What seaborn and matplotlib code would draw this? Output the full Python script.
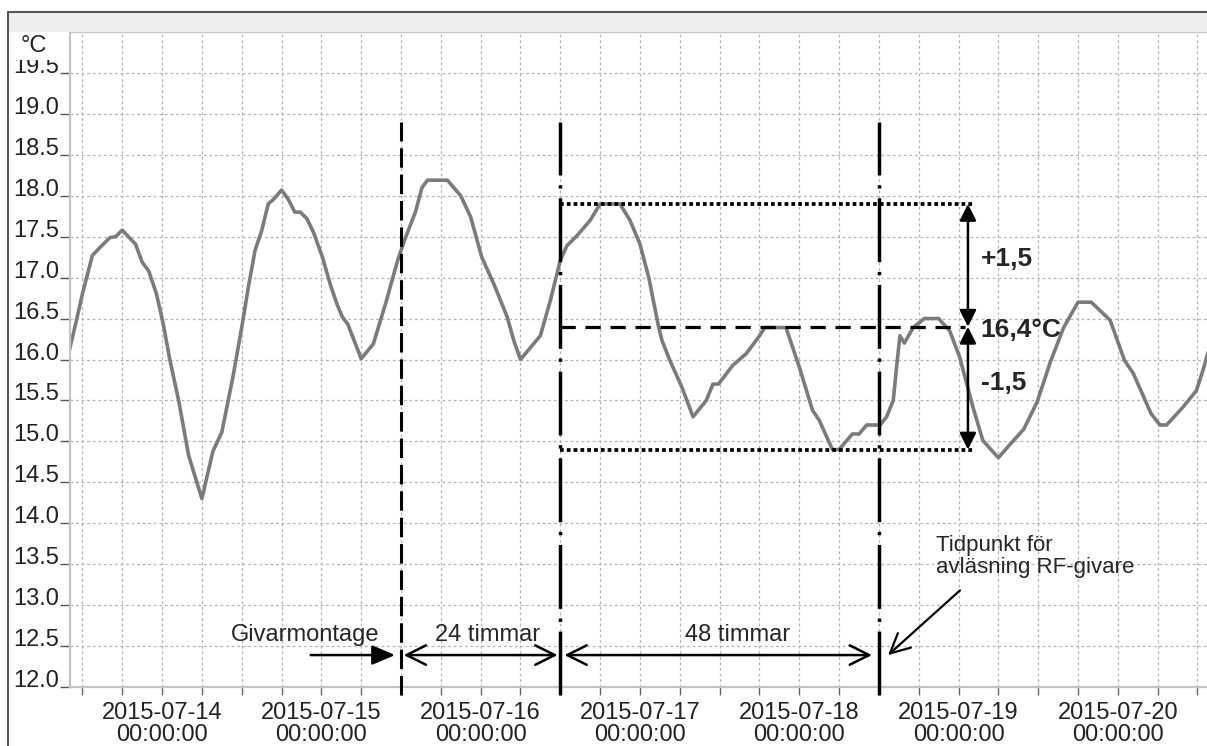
import numpy as np
import pandas as pd
import matplotlib
matplotlib.use("Agg")
import matplotlib.pyplot as plt
import matplotlib.dates as mdates
from matplotlib.patches import Rectangle
from matplotlib.lines import Line2D
import seaborn as sns

# ---------------- data ----------------
times = [
    "2015-07-13 10:00", "2015-07-13 11:00", "2015-07-13 12:00", "2015-07-13 13:30",
    "2015-07-13 14:40", "2015-07-13 16:10", "2015-07-13 17:00", "2015-07-13 18:00",
    "2015-07-13 20:00", "2015-07-13 21:00", "2015-07-13 22:00", "2015-07-13 23:10",
    "2015-07-14 00:10", "2015-07-14 01:10", "2015-07-14 02:30", "2015-07-14 04:00",
    "2015-07-14 06:00", "2015-07-14 07:40", "2015-07-14 09:00", "2015-07-14 10:40",
    "2015-07-14 12:00", "2015-07-14 13:00", "2015-07-14 14:00", "2015-07-14 15:00",
    "2015-07-14 16:00", "2015-07-14 16:50", "2015-07-14 18:00", "2015-07-14 19:00",
    "2015-07-14 20:00", "2015-07-14 20:50", "2015-07-14 21:50", "2015-07-14 22:50",
    "2015-07-15 00:10", "2015-07-15 01:20", "2015-07-15 02:20", "2015-07-15 03:10",
    "2015-07-15 04:00", "2015-07-15 06:00", "2015-07-15 07:50", "2015-07-15 09:40",
    "2015-07-15 11:30", "2015-07-15 12:30", "2015-07-15 14:10", "2015-07-15 15:10",
    "2015-07-15 16:00", "2015-07-15 19:00", "2015-07-15 21:00", "2015-07-15 22:30",
    "2015-07-16 00:10", "2015-07-16 02:00", "2015-07-16 04:00", "2015-07-16 05:00",
    "2015-07-16 06:00", "2015-07-16 09:00", "2015-07-16 10:30", "2015-07-16 12:00",
    "2015-07-16 13:00", "2015-07-16 14:30", "2015-07-16 16:30", "2015-07-16 18:00",
    "2015-07-16 21:00", "2015-07-16 22:30", "2015-07-17 00:00", "2015-07-17 01:20",
    "2015-07-17 02:50", "2015-07-17 03:20", "2015-07-17 04:30", "2015-07-17 06:20",
    "2015-07-17 08:00", "2015-07-17 10:00", "2015-07-17 11:00", "2015-07-17 11:50",
    "2015-07-17 14:00", "2015-07-17 16:00", "2015-07-17 17:40", "2015-07-17 18:50",
    "2015-07-17 22:00", "2015-07-18 00:00", "2015-07-18 02:00", "2015-07-18 03:00",
    "2015-07-18 05:00", "2015-07-18 06:00", "2015-07-18 08:00", "2015-07-18 09:00",
    "2015-07-18 10:10", "2015-07-18 12:10", "2015-07-18 13:10", "2015-07-18 14:10",
    "2015-07-18 14:40", "2015-07-18 15:10", "2015-07-18 15:50", "2015-07-18 17:10",
    "2015-07-18 18:50", "2015-07-18 21:00", "2015-07-18 22:40", "2015-07-19 00:10",
    "2015-07-19 02:10", "2015-07-19 03:40", "2015-07-19 06:00", "2015-07-19 07:50",
    "2015-07-19 09:50", "2015-07-19 11:50", "2015-07-19 13:50", "2015-07-19 15:50",
    "2015-07-19 18:00", "2015-07-19 20:00", "2015-07-19 22:50", "2015-07-20 01:00",
    "2015-07-20 02:20", "2015-07-20 05:00", "2015-07-20 06:20", "2015-07-20 07:20",
    "2015-07-20 09:50", "2015-07-20 11:50", "2015-07-20 12:50", "2015-07-20 13:40",
]
temps = [
    16.10, 16.44, 16.80, 17.27, 17.37, 17.49, 17.50, 17.58,
    17.41, 17.19, 17.08, 16.80, 16.44, 16.00, 15.50, 14.83,
    14.30, 14.88, 15.11, 15.78, 16.39, 16.88, 17.33, 17.57,
    17.90, 17.96, 18.07, 17.96, 17.80, 17.80, 17.72, 17.55,
    17.25, 16.92, 16.68, 16.52, 16.43, 16.01, 16.19, 16.68,
    17.21, 17.45, 17.80, 18.10, 18.19, 18.19, 18.00, 17.74,
    17.25, 16.92, 16.52, 16.23, 16.00, 16.29, 16.72, 17.21,
    17.39, 17.51, 17.70, 17.90, 17.90, 17.70, 17.41, 17.00,
    16.39, 16.23, 15.99, 15.66, 15.30, 15.50, 15.70, 15.70,
    15.93, 16.07, 16.25, 16.39, 16.39, 15.91, 15.38, 15.26,
    14.90, 14.90, 15.09, 15.09, 15.20, 15.20, 15.30, 15.50,
    15.91, 16.29, 16.20, 16.39, 16.50, 16.50, 16.35, 16.03,
    15.42, 15.01, 14.80, 14.97, 15.15, 15.48, 15.97, 16.39,
    16.70, 16.70, 16.48, 15.99, 15.83, 15.34, 15.20, 15.20,
    15.42, 15.62, 15.87, 16.11,
]

event_times = ["2015-07-15 12:00", "2015-07-16 12:00", "2015-07-18 12:00"]
event_labels = ["Givarmontage", "24 timmar", "48 timmar"]
mean_temp = 16.4
delta_temp = 1.5
y_ticks = [12.0, 12.5, 13.0, 13.5, 14.0, 14.5, 15.0, 15.5, 16.0,
           16.5, 17.0, 17.5, 18.0, 18.5, 19.0, 19.5]
day_ticks = ["2015-07-14", "2015-07-15", "2015-07-16", "2015-07-17",
             "2015-07-18", "2015-07-19", "2015-07-20"]
x_range = ["2015-07-13 10:08", "2015-07-20 13:26"]
y_range = [12.0, 20.0]

# ---------------- style ----------------
sns.set_theme(style="white")
plt.rcParams["font.family"] = ["Liberation Sans", "DejaVu Sans"]
plt.rcParams["lines.scale_dashes"] = False

W, H = 1207, 746
fig = plt.figure(figsize=(W / 100, H / 100), dpi=100)
fig.patch.set_facecolor("white")


def fx(px):
    return px / W


def fy(py):
    return 1 - py / H


ax = fig.add_axes([fx(70), fy(687), 1 - fx(70), (687 - 32) / H])
ax.set_facecolor("white")


def tnum(s):
    return mdates.date2num(pd.Timestamp(s))


df = pd.DataFrame({"time": pd.to_datetime(times), "temp": temps})
sns.lineplot(data=df, x="time", y="temp", ax=ax, color="#7b7b7b",
             linewidth=2.6, zorder=2)

ax.set_xlim(tnum(x_range[0]), tnum(x_range[1]))
ax.set_ylim(*y_range)
ax.set_xlabel("")
ax.set_ylabel("")

# ticks
ax.set_yticks(y_ticks)
ax.set_yticklabels([f"{v:.1f}" for v in y_ticks], va="baseline")
ax.tick_params(axis="y", which="major", length=7.5, width=1, color="#555555",
               direction="out", pad=0, labelsize=17, labelcolor="#222222", left=True)

ax.set_xticks([tnum(d) for d in day_ticks])
ax.set_xticklabels([f"{d}\n00:00:00" for d in day_ticks], linespacing=1.0)
ax.xaxis.set_minor_locator(mdates.HourLocator(byhour=[6, 12, 18]))
ax.tick_params(axis="x", which="both", length=6, width=1, color="#666666",
               direction="out", pad=5, labelsize=17, labelcolor="#222222", bottom=True)

ax.grid(True, which="major", axis="both", color="#b3b3b3", linestyle=(0, (2, 2)), linewidth=0.9)
ax.grid(True, which="minor", axis="x", color="#b3b3b3", linestyle=(0, (2, 2)), linewidth=0.9)
ax.set_axisbelow(True)

for side in ["left", "bottom", "top"]:
    ax.spines[side].set_color("#c4c4c4")
    ax.spines[side].set_linewidth(1.6)
ax.spines["right"].set_visible(False)

# ---------------- annotations ----------------
e1, e2, e3 = [tnum(e) for e in event_times]
ax.plot([e1, e1], [11.9, 18.9], color="black", lw=2.2, ls=(0, (14, 5)),
        clip_on=False, zorder=4)
for e in (e2, e3):
    ax.plot([e, e], [11.9, 18.9], color="black", lw=2.5,
            ls=(0, (46, 7, 2.4, 7)), clip_on=False, zorder=4)

x_end_dot = tnum("2015-07-19 02:30")
x_arrow = tnum("2015-07-19 01:25")
x_end_dash = tnum("2015-07-19 01:00")
upper = mean_temp + delta_temp
lower = mean_temp - delta_temp
for yv in (upper, lower):
    ax.plot([e2, x_end_dot], [yv, yv], color="black", lw=2.7,
            ls=(0, (2.7, 2.2)), zorder=4)
ax.plot([e2, x_end_dash], [mean_temp, mean_temp], color="black", lw=2.3,
        ls=(0, (11, 7)), zorder=4)

head = "<|-|>,head_length=0.5,head_width=0.25"
for y0, y1 in ((upper, mean_temp), (mean_temp, lower)):
    ax.annotate("", xy=(x_arrow, y0), xytext=(x_arrow, y1),
                arrowprops=dict(arrowstyle=head, color="black", lw=1.8,
                                mutation_scale=20, shrinkA=0, shrinkB=0),
                zorder=5)

tx = tnum("2015-07-19 03:20")
ax.text(tx, 17.23, "+1,5", fontsize=19, fontweight="bold", ha="left", va="center", zorder=6)
ax.text(tx, 16.36, "16,4°C", fontsize=19, fontweight="bold", ha="left", va="center", zorder=6)
ax.text(tx, 15.71, "-1,5", fontsize=19, fontweight="bold", ha="left", va="center", zorder=6)

y_arr = 12.39
y_txt = 12.63
ax.annotate("", xy=(tnum("2015-07-15 11:06"), y_arr), xytext=(tnum("2015-07-14 22:24"), y_arr),
            arrowprops=dict(arrowstyle="-|>,head_length=0.7,head_width=0.3", color="black",
                            lw=1.8, mutation_scale=20, shrinkA=0, shrinkB=0), zorder=5)
open_head = "<->,head_length=0.7,head_width=0.35"
ax.annotate("", xy=(e2, y_arr), xytext=(e1, y_arr),
            arrowprops=dict(arrowstyle=open_head, color="black", lw=1.8,
                            mutation_scale=20, shrinkA=2, shrinkB=2), zorder=5)
ax.annotate("", xy=(e3, y_arr), xytext=(e2, y_arr),
            arrowprops=dict(arrowstyle=open_head, color="black", lw=1.8,
                            mutation_scale=20, shrinkA=3, shrinkB=5), zorder=5)
ax.text(tnum("2015-07-14 21:36"), y_txt, event_labels[0], fontsize=17, ha="center", va="center", zorder=6)
ax.text(tnum("2015-07-16 01:00"), y_txt, event_labels[1], fontsize=17, ha="center", va="center", zorder=6)
ax.text(tnum("2015-07-17 14:40"), y_txt, event_labels[2], fontsize=17, ha="center", va="center", zorder=6)

ax.annotate("", xy=(tnum("2015-07-18 13:23"), y_arr), xytext=(tnum("2015-07-19 00:13"), 13.18),
            arrowprops=dict(arrowstyle="->,head_length=0.7,head_width=0.35", color="black",
                            lw=1.6, mutation_scale=20, shrinkA=0, shrinkB=0), zorder=5)
ax.text(tnum("2015-07-18 20:36"), 13.33, "Tidpunkt för\navläsning RF-givare",
        fontsize=16, ha="left", va="bottom", linespacing=1.05, zorder=6)

# ---------------- window decoration ----------------
fig.add_artist(Rectangle((fx(9), fy(32)), 1, 20 / H, transform=fig.transFigure,
                         facecolor="#eeeeee", edgecolor="none", zorder=1))
fig.add_artist(Line2D([fx(8), fx(8)], [0, fy(12)], transform=fig.transFigure,
                      color="#555555", lw=1.5, zorder=2))
fig.add_artist(Line2D([fx(8), 1], [fy(12), fy(12)], transform=fig.transFigure,
                      color="#555555", lw=1.5, zorder=2))
fig.add_artist(Rectangle((fx(10), fy(60)), 50 / W, 27 / H, transform=fig.transFigure,
                         facecolor="white", edgecolor="none", zorder=2))
fig.text(fx(34), fy(46), "°C", fontsize=17, ha="center", va="center", color="#222222", zorder=3)

fig.savefig("out.png", dpi=100)
